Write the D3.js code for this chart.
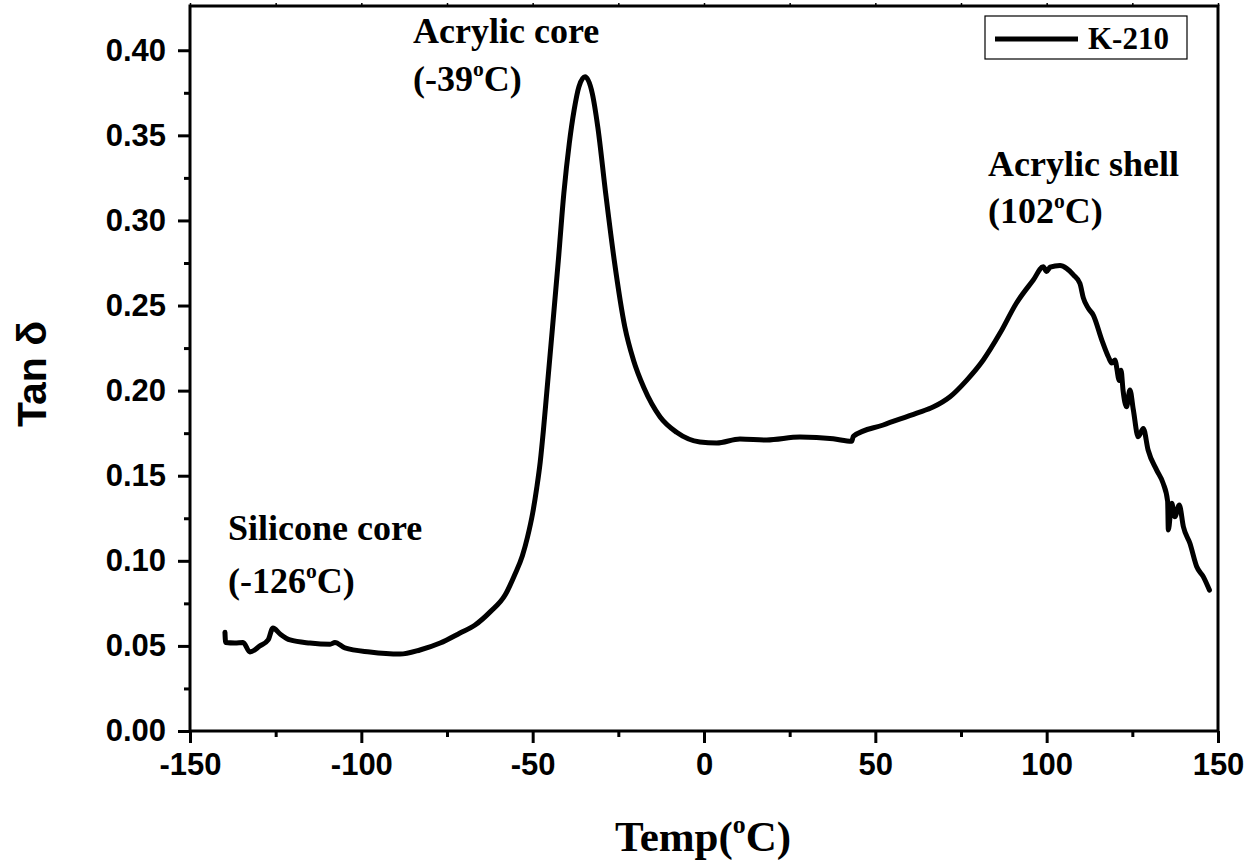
<!DOCTYPE html>
<html>
<head>
<meta charset="utf-8">
<script src="https://cdn.jsdelivr.net/npm/d3@7/dist/d3.min.js"></script>
<style>
  html, body { margin: 0; padding: 0; background: #fff; }
  svg { display: block; }
</style>
</head>
<body>
<svg id="chart" width="1251" height="863"></svg>
<script>
// ---- data ----
const temps = [-139.8,-139.6,-136.9,-134.5,-132.5,-129.6,-127.2,-125.8,-123.7,-120.8,-115.0,-109.1,-107.7,-104.8,-97.5,-88.7,-82.9,-77.0,-71.2,-66.8,-62.4,-58.0,-55.2,-53.0,-51.5,-50.0,-48.8,-47.8,-46.9,-45.9,-44.2,-42.5,-40.9,-39.3,-37.9,-36.5,-34.7,-32.6,-31.0,-28.7,-26.2,-23.1,-20.6,-17.5,-12.8,-8.0,-1.2,3.7,10.5,18.3,28.0,37.7,43.1,43.6,52.3,62.1,67.0,71.8,76.7,81.5,86.4,91.2,96.1,99.0,100.0,101.0,103.9,105.8,107.8,109.7,110.7,112.1,113.6,116.1,118.0,119.0,119.9,121.2,121.7,122.3,123.3,124.3,125.3,126.7,128.2,129.6,132.1,134.0,135.3,135.5,136.5,137.4,138.7,139.9,141.8,143.8,145.7,147.5];
const tanDelta = [0.058,0.052,0.0517,0.052,0.0464,0.050,0.0535,0.0605,0.057,0.0535,0.0517,0.051,0.052,0.0488,0.0464,0.0452,0.0476,0.0517,0.0576,0.0623,0.070,0.080,0.092,0.103,0.114,0.128,0.143,0.158,0.176,0.1986,0.2374,0.2767,0.316,0.3455,0.3649,0.3786,0.3844,0.3746,0.355,0.316,0.2767,0.2374,0.218,0.2015,0.1845,0.1755,0.1698,0.1692,0.1716,0.171,0.1727,0.1717,0.1702,0.1732,0.1798,0.1868,0.1905,0.1964,0.2062,0.218,0.2338,0.2515,0.265,0.2728,0.270,0.2725,0.2735,0.2718,0.268,0.263,0.2545,0.2485,0.2444,0.2297,0.2199,0.2162,0.218,0.206,0.212,0.200,0.1905,0.2003,0.1886,0.1729,0.1778,0.1651,0.1533,0.1455,0.135,0.1181,0.1338,0.1259,0.1328,0.12,0.1103,0.0965,0.0907,0.0828];

const xTicks = [-150,-100,-50,0,50,100,150];
const xMinorTicks = [-125,-75,-25,25,75,125];
const yTicks = [0,0.05,0.10,0.15,0.20,0.25,0.30,0.35,0.40];
const yMinorTicks = [0.025,0.075,0.125,0.175,0.225,0.275,0.325,0.375];

const annotations = [
  ["Acrylic core", ["(-39", "o", "C)"]],
  ["Silicone core", ["(-126", "o", "C)"]],
  ["Acrylic shell", ["(102", "o", "C)"]]
];
const seriesName = "K-210";

// ---- layout ----
const svg = d3.select("#chart");
const L = 190, R = 1218, T = 6, B = 731;
const x = d3.scaleLinear().domain([-150, 150]).range([L, R]);
const y = d3.scaleLinear().domain([0, 0.426]).range([B, T]);

const sans = "'Liberation Sans', Arial, sans-serif";
const serif = "'Liberation Serif', 'Times New Roman', serif";

// frame
svg.append("rect").attr("x", L).attr("y", T).attr("width", R - L).attr("height", B - T)
  .attr("fill", "none").attr("stroke", "#000").attr("stroke-width", 3);

// bottom axis
const xAxis = d3.axisBottom(x).tickValues(xTicks).tickSize(12).tickPadding(10)
  .tickFormat(d => String(d));
const gx = svg.append("g").attr("transform", `translate(0,${B})`).call(xAxis);
gx.select(".domain").remove();
gx.selectAll(".tick line").attr("stroke-width", 3);
gx.selectAll(".tick text").attr("font-family", sans).attr("font-weight", "bold")
  .attr("font-size", 31).attr("fill", "#000");
const gxm = svg.append("g").attr("transform", `translate(0,${B})`)
  .call(d3.axisBottom(x).tickValues(xMinorTicks).tickSize(6).tickFormat(""));
gxm.select(".domain").remove();
gxm.selectAll(".tick line").attr("stroke-width", 3);

// top axis (outward small ticks)
const gt = svg.append("g").attr("transform", `translate(0,${T})`)
  .call(d3.axisTop(x).tickValues(xTicks.concat(xMinorTicks)).tickSize(3).tickFormat(""));
gt.select(".domain").remove();
gt.selectAll(".tick line").attr("stroke-width", 1.5);

// left axis
const yAxis = d3.axisLeft(y).tickValues(yTicks).tickSize(12).tickPadding(12)
  .tickFormat(d3.format(".2f"));
const gy = svg.append("g").attr("transform", `translate(${L},0)`).call(yAxis);
gy.select(".domain").remove();
gy.selectAll(".tick line").attr("stroke-width", 3);
gy.selectAll(".tick text").attr("font-family", sans).attr("font-weight", "bold")
  .attr("font-size", 31).attr("fill", "#000");
const gym = svg.append("g").attr("transform", `translate(${L},0)`)
  .call(d3.axisLeft(y).tickValues(yMinorTicks).tickSize(6).tickFormat(""));
gym.select(".domain").remove();
gym.selectAll(".tick line").attr("stroke-width", 3);

// axis titles
svg.append("text").attr("transform", "translate(46,374) rotate(-90)")
  .attr("text-anchor", "middle").attr("font-family", sans).attr("font-weight", "bold")
  .attr("font-size", 41).attr("fill", "#000").text("Tan δ");

function supText(sel, parts, size) {
  if (typeof parts === "string") { sel.text(parts); return; }
  sel.append("tspan").text(parts[0]);
  sel.append("tspan").attr("font-size", size * 0.6).attr("dy", -size * 0.42).text(parts[1]);
  sel.append("tspan").attr("dy", size * 0.42).text(parts[2]);
}
const xt = svg.append("text").attr("x", 703).attr("y", 851).attr("text-anchor", "middle")
  .attr("font-family", serif).attr("font-weight", "bold").attr("font-size", 43).attr("fill", "#000");
supText(xt, ["Temp(", "o", "C)"], 43);

// curve
const data = temps.map((t, i) => [t, tanDelta[i]]);
const line = d3.line().x(d => x(d[0])).y(d => y(d[1])).curve(d3.curveMonotoneX);
svg.append("path").datum(data).attr("d", line).attr("fill", "none")
  .attr("stroke", "#000").attr("stroke-width", 5).attr("stroke-linejoin", "round")
  .attr("stroke-linecap", "round");

// annotations
const annPos = [
  { x: 413, y: [43, 91] },
  { x: 228, y: [540, 593] },
  { x: 988, y: [176, 223] }
];
annotations.forEach((a, i) => {
  a.forEach((parts, j) => {
    const t = svg.append("text").attr("x", annPos[i].x).attr("y", annPos[i].y[j])
      .attr("font-family", serif).attr("font-weight", "bold").attr("font-size", 36).attr("fill", "#000");
    supText(t, parts, 36);
  });
});

// legend
svg.append("rect").attr("x", 985).attr("y", 16).attr("width", 202).attr("height", 43)
  .attr("fill", "#fff").attr("stroke", "#000").attr("stroke-width", 1.2);
svg.append("line").attr("x1", 995).attr("x2", 1078).attr("y1", 39).attr("y2", 39)
  .attr("stroke", "#000").attr("stroke-width", 5);
svg.append("text").attr("x", 1088).attr("y", 49).attr("font-family", serif)
  .attr("font-weight", "bold").attr("font-size", 31).attr("fill", "#000").text(seriesName);
</script>
</body>
</html>
